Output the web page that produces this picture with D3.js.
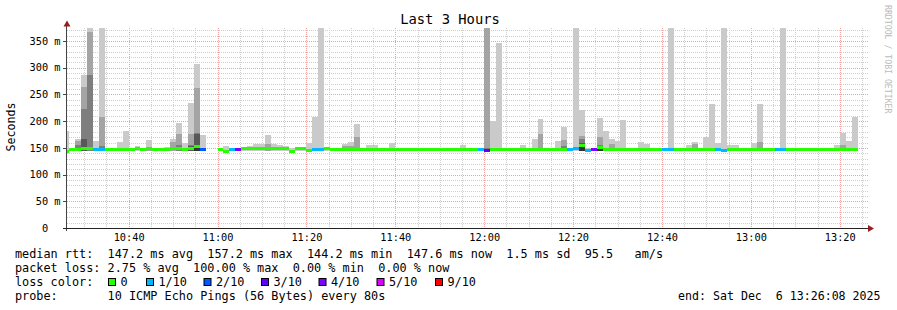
<!DOCTYPE html>
<html>
<head>
<meta charset="utf-8">
<script src="https://cdn.jsdelivr.net/npm/d3@7"></script>
<style>
  body { margin: 0; background: #fff; }
  svg text { font-family: "DejaVu Sans Mono", monospace; white-space: pre; }
</style>
</head>
<body>
<div id="chart"></div>
<script>
// smokeping data, one entry per 80 s step (first step starts 10:25:20)
var medianMs = [
  144,147,147,149,148,146,146,147,147,147,
  147,147,148,147,148,147,147,147,148,149,
  147,148,152,146,null,null,146,143,146,147,
  148,148,148,148,148,148,148,148,144,148,
  148,145,146,146,148,147,147,147,147,147,
  147,147,147,147,147,147,147,147,147,147,
  147,147,147,147,147,147,147,147,147,147,
  147,145,147,147,147,147,147,147,147,147,
  147,147,147,147,147,147,148,155,145,147,
  151,147,147,147,147,147,147,147,147,147,
  147,146,146,147,147,147,147,147,147,147,
  147,145,147,147,147,147,147,147,147,147,
  147,147,147,147,147,147,147,147,147,147,
  147,147,147,147
];
var lossCount = [
  0,0,0,0,0,1,1,0,0,0,
  0,0,0,0,0,0,0,0,0,0,
  0,0,0,2,null,null,0,0,1,4,
  0,0,0,0,0,0,0,0,0,0,
  0,0,1,1,0,0,0,0,0,0,
  0,0,0,0,0,0,0,0,0,0,
  0,0,0,0,0,0,0,0,0,0,
  1,3,0,0,0,0,0,0,0,0,
  0,0,0,0,0,1,1,0,1,4,
  0,0,0,0,0,0,0,0,0,0,
  0,1,1,0,0,0,0,0,0,0,
  1,1,0,0,0,0,0,0,0,0,
  1,1,0,0,0,0,0,0,0,0,
  0,0,0,0
];
// smoke tops: ping10 (outer, lightest) ... ping6 (inner, darkest)
var smoke1 = [
  181,150,166,286,380,163,380,150,149,161,
  181,149,153,149,165,149,149,151,166,196,
  159,234,307,174,null,null,150,153,149,149,
  150,153,157,157,174,157,155,153,149,150,
  149,159,208,380,149,149,150,157,161,195,
  150,155,155,150,149,159,150,150,149,149,
  149,149,149,149,150,149,149,155,150,149,
  149,380,200,346,149,149,150,155,149,166,
  204,149,149,163,189,149,380,221,149,149,
  206,181,166,163,202,149,150,161,157,149,
  149,149,380,149,150,155,161,149,170,232,
  159,380,155,155,150,149,159,232,150,149,
  149,380,150,150,149,149,149,149,149,149,
  155,178,163,208
];
var smoke2 = [
  null,null,163,264,366,null,208,150,null,null,
  null,null,null,null,150,null,null,null,161,176,
  null,176,262,null,null,null,null,null,null,null,
  null,null,null,null,157,null,null,null,null,null,
  null,null,null,null,null,null,null,153,153,170,
  null,null,null,null,null,null,null,null,null,null,
  null,null,null,null,null,null,null,null,149,null,
  null,380,null,null,null,null,null,null,null,null,
  176,null,null,null,165,null,null,173,null,null,
  170,null,157,null,null,null,null,null,null,null,
  null,null,null,null,null,150,157,null,null,null,
  null,null,null,null,null,null,null,161,null,null,
  null,null,null,null,null,null,null,null,null,null,
  150,155,null,null
];
var smoke3 = [
  null,null,155,223,286,null,153,null,null,null,
  null,null,null,null,null,null,null,null,null,155,
  null,155,178,null,null,null,null,null,null,null,
  null,null,null,null,null,null,null,null,null,null,
  null,null,null,null,null,null,null,null,null,null,
  null,null,null,null,null,null,null,null,null,null,
  null,null,null,null,null,null,null,null,null,null,
  null,150,null,null,null,null,null,null,null,null,
  null,null,null,null,153,null,null,166,null,null,
  155,null,null,null,null,null,null,null,null,null,
  null,null,null,null,null,null,null,null,null,null,
  null,null,null,null,null,null,null,null,null,null,
  null,null,null,null,null,null,null,null,null,null,
  null,null,null,null
];
var smoke4 = [
  null,null,null,167,null,null,null,null,null,null,
  null,null,null,null,null,null,null,null,null,null,
  null,153,176,null,null,null,null,null,null,null,
  null,null,null,null,null,null,null,null,null,null,
  null,null,null,null,null,null,null,null,null,null,
  null,null,null,null,null,null,null,null,null,null,
  null,null,null,null,null,null,null,null,null,null,
  null,null,null,null,null,null,null,null,null,null,
  null,null,null,null,null,null,null,160,null,null,
  152,null,null,null,null,null,null,null,null,null,
  null,null,null,null,null,null,null,null,null,null,
  null,null,null,null,null,null,null,null,null,null,
  null,null,null,null,null,null,null,null,null,null,
  null,null,null,null
];
var smoke5 = [
  null,null,null,null,null,null,null,null,null,null,
  null,null,null,null,null,null,null,null,null,null,
  null,null,150,null,null,null,null,null,null,null,
  null,null,null,null,null,null,null,null,null,null,
  null,null,null,null,null,null,null,null,null,null,
  null,null,null,null,null,null,null,null,null,null,
  null,null,null,null,null,null,null,null,null,null,
  null,null,null,null,null,null,null,null,null,null,
  null,null,null,null,null,null,null,152,null,null,
  150,null,null,null,null,null,null,null,null,null,
  null,null,null,null,null,150,null,null,null,null,
  null,null,null,null,null,null,null,null,null,null,
  null,null,null,null,null,null,null,null,null,null,
  null,null,null,null
];
var smokeFloorMs = 145;   // lowest pings, hidden under the median line
var smokeColors = ["#cacaca", "#a4a4a4", "#7e7e7e", "#585858", "#323232"];

var lossThresholds = [0, 1, 2, 3, 4, 5, 9];
var lossLabels = ["0", "1/10", "2/10", "3/10", "4/10", "5/10", "9/10"];
var lossColors = ["#26ff00", "#00b8ff", "#0059ff", "#5e00ff", "#7e00ff", "#dd00ff", "#ff0000"];

var legendLines = [
  "median rtt:  147.2 ms avg  157.2 ms max  144.2 ms min  147.6 ms now  1.5 ms sd  95.5   am/s",
  "packet loss: 2.75 % avg  100.00 % max  0.00 % min  0.00 % now",
  "loss color:",
  "probe:       10 ICMP Echo Pings (56 Bytes) every 80s"
];
var endLabel = "end: Sat Dec  6 13:26:08 2025";

var viewStart = new Date(Date.UTC(2025, 11, 6, 10, 26, 8));
var viewEnd = new Date(Date.UTC(2025, 11, 6, 13, 26, 8));
var firstStep = Date.UTC(2025, 11, 6, 10, 25, 20);
var stepSec = 80;

// ---- layout
var W = 897, H = 310;
var plotL = 67, plotR = 867, plotT = 28, plotB = 228;

var svg = d3.select("#chart").append("svg")
    .attr("width", W).attr("height", H);

var x = d3.scaleUtc().domain([viewStart, viewEnd]).range([plotL, plotR]);
var y = d3.scaleLinear().domain([0, 374.3]).range([plotB, plotT]);

var steps = medianMs.map(function (m, k) {
  return {
    start: new Date(firstStep + k * stepSec * 1000),
    end: new Date(firstStep + (k + 1) * stepSec * 1000),
    med: m,
    loss: lossCount[k],
    tops: [smoke1[k], smoke2[k], smoke3[k], smoke4[k], smoke5[k]]
  };
});

svg.append("defs").append("clipPath").attr("id", "plot")
  .append("rect").attr("x", plotL).attr("y", plotT)
  .attr("width", plotR - plotL).attr("height", plotB - plotT);

// ---- grid
var grid = svg.append("g").attr("shape-rendering", "crispEdges");
var minutes = d3.utcMinute.every(5).range(d3.utcMinute.ceil(viewStart), viewEnd);
grid.selectAll(".vg").data(minutes).enter().append("line")
  .attr("x1", function (d) { return Math.round(x(d)) + 0.5; })
  .attr("x2", function (d) { return Math.round(x(d)) + 0.5; })
  .attr("y1", plotT).attr("y2", plotB)
  .attr("stroke", function (d) { return d.getUTCMinutes() % 20 === 0 ? "#f0a0a0" : "#cfcfcf"; })
  .attr("stroke-dasharray", "1,1");

var hvals = d3.range(10, 374, 10);
grid.selectAll(".hg").data(hvals).enter().append("line")
  .attr("x1", plotL).attr("x2", plotR + 1)
  .attr("y1", function (d) { return Math.round(y(d)) + 0.5; })
  .attr("y2", function (d) { return Math.round(y(d)) + 0.5; })
  .attr("stroke", function (d) { return d % 50 === 0 ? "#f0a0a0" : "#cfcfcf"; })
  .attr("stroke-dasharray", "1,1");

// ---- smoke
var plot = svg.append("g").attr("clip-path", "url(#plot)").attr("shape-rendering", "crispEdges");
smokeColors.forEach(function (col, i) {
  plot.append("g").selectAll("rect")
    .data(steps.filter(function (s) { return s.tops[i] != null; }))
    .enter().append("rect")
    .attr("x", function (s) { return x(s.start); })
    .attr("width", function (s) { return x(s.end) - x(s.start); })
    .attr("y", function (s) { return y(s.tops[i]); })
    .attr("height", function (s) { return y(smokeFloorMs) - y(s.tops[i]); })
    .attr("fill", col);
});

function lossColor(n) {
  var c = lossColors[0];
  lossThresholds.forEach(function (t, i) { if (n >= t) c = lossColors[i]; });
  return c;
}

// ---- median line
plot.append("g").selectAll("rect")
  .data(steps.filter(function (s) { return s.med != null; }))
  .enter().append("rect")
  .attr("x", function (s) { return x(s.start); })
  .attr("width", function (s) { return x(s.end) - x(s.start); })
  .attr("y", function (s) { return y(s.med) - 1.5; })
  .attr("height", 3)
  .attr("fill", function (s) { return lossColor(s.loss); });

// ---- axes
var xAxis = d3.axisBottom(x)
  .tickValues(d3.utcMinute.every(20).range(d3.utcMinute.ceil(viewStart), viewEnd))
  .tickFormat(d3.utcFormat("%H:%M"))
  .tickSize(0).tickPadding(5.8);
var gx = svg.append("g").attr("transform", "translate(0," + plotB + ")").call(xAxis);
gx.select(".domain").remove();
gx.selectAll("text").attr("font-family", "DejaVu Sans Mono").attr("font-size", "10.3px").attr("fill", "#000");

var yAxis = d3.axisLeft(y)
  .tickValues(d3.range(0, 351, 50))
  .tickFormat(function (v) { return v === 0 ? "  0  " : d3.format("3d")(v) + " m"; })
  .tickSize(4).tickSizeOuter(0);
var gy = svg.append("g").attr("transform", "translate(" + (plotL - 0.5) + ",0)").call(yAxis);
gy.select(".domain").remove();
gy.selectAll("line").attr("stroke", "#444").attr("shape-rendering", "crispEdges");
gy.selectAll("text")
  .attr("xml:space", "preserve")
  .attr("text-anchor", "start")
  .attr("x", 30 - plotL)
  .attr("font-family", "DejaVu Sans Mono").attr("font-size", "10.3px").attr("fill", "#000");

// axis lines + arrows
svg.append("line").attr("x1", plotL - 0.5).attr("x2", plotL - 0.5).attr("y1", plotB + 3).attr("y2", plotT - 3)
  .attr("stroke", "#444").attr("shape-rendering", "crispEdges");
svg.append("line").attr("x1", plotL - 4).attr("x2", plotR + 2).attr("y1", plotB + 0.5).attr("y2", plotB + 0.5)
  .attr("stroke", "#222").attr("shape-rendering", "crispEdges");
svg.append("path").attr("d", "M63.5,26.5 L70.5,26.5 L67,20.5 Z").attr("fill", "#9a1c1c");
svg.append("path").attr("d", "M868,225 L868,232 L874,228.5 Z").attr("fill", "#9a1c1c");

// ---- texts
svg.append("text").attr("x", 450).attr("y", 24).attr("text-anchor", "middle")
  .attr("font-size", "13.8px").text("Last 3 Hours");

svg.append("text").attr("transform", "translate(15,127) rotate(-90)")
  .attr("text-anchor", "middle").attr("font-size", "11.6px").text("Seconds");

svg.append("text").attr("transform", "translate(884.5,5) rotate(90)")
  .attr("font-size", "8.2px").attr("fill", "#bbbbbb").text("RRDTOOL / TOBI OETIKER");

var legend = svg.append("g").attr("font-size", "11.83px");
legendLines.forEach(function (line, i) {
  legend.append("text").attr("xml:space", "preserve")
    .attr("x", 15).attr("y", 258 + i * 14).text(line);
});
legend.append("text").attr("x", 880.5).attr("y", 300).attr("text-anchor", "end")
  .attr("font-size", "11.6px")
  .attr("xml:space", "preserve").text(endLabel);

var boxX = [108, 146, 203.5, 261, 318.5, 376.5, 435];
var boxes = legend.selectAll(".lc").data(lossLabels).enter().append("g");
boxes.append("rect")
  .attr("x", function (d, i) { return boxX[i] + 0.5; })
  .attr("y", 278.5).attr("width", 7).attr("height", 7)
  .attr("fill", function (d, i) { return lossColors[i]; })
  .attr("stroke", "#000").attr("stroke-width", 1);
boxes.append("text")
  .attr("x", function (d, i) { return boxX[i] + 12.5; })
  .attr("y", 286).text(function (d) { return d; });
</script>
</body>
</html>
